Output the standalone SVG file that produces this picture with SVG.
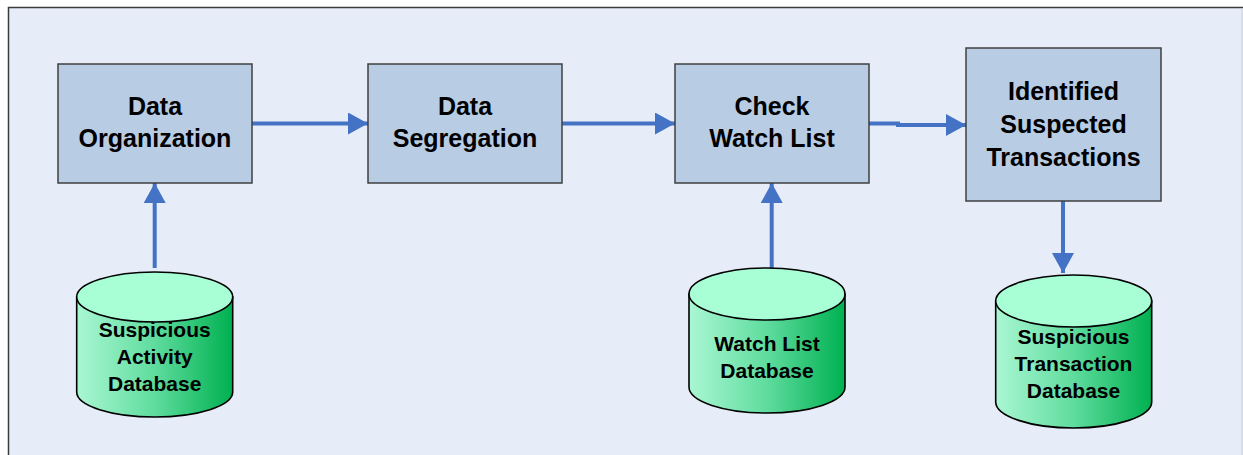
<svg xmlns="http://www.w3.org/2000/svg" width="1243" height="455" viewBox="0 0 1243 455">
  <style>
    .box { fill: #B8CCE4; stroke: #3F3F3F; stroke-width: 1.5; }
    .lbl { font-family: "Liberation Sans", Arial, sans-serif; font-weight: bold; fill: #000; text-anchor: middle; }
    .big { font-size: 25px; }
    .small { font-size: 21px; }
    .side { fill: url(#cylSide); stroke: #000; stroke-width: 1.6; }
    .cap { fill: #A9FFD5; stroke: #000; stroke-width: 1.6; }
    .flow { fill: none; stroke: #4472C4; stroke-width: 4; marker-end: url(#arrow); }
  </style>
  <defs>
    <linearGradient id="cylSide" x1="0" y1="0" x2="1" y2="0">
      <stop offset="0" stop-color="#AAF7D3"/>
      <stop offset="0.5" stop-color="#5FDC9E"/>
      <stop offset="1" stop-color="#00B050"/>
    </linearGradient>
    <marker id="arrow" markerUnits="userSpaceOnUse" markerWidth="20" markerHeight="22" refX="20" refY="11" orient="auto">
      <path d="M0,0 L20,11 L0,22 Z" fill="#4472C4"/>
    </marker>
  </defs>

  <!-- page and panel frame -->
  <rect x="0" y="0" width="1243" height="455" fill="#FFFFFF"/>
  <rect x="8.5" y="7.5" width="1234.5" height="448" fill="#E6EDF8"/>
  <path d="M8.5,455 V7.5 H1243" fill="none" stroke="#3A3A3A" stroke-width="1.5"/>
  <path d="M1242,8 V455" fill="none" stroke="#C8CFDA" stroke-width="1"/>

  <g id="connectors">
    <path class="flow" d="M250,123.5 H368"/>
    <path class="flow" d="M562,123.5 H675"/>
    <path class="flow" d="M869,123.5 H898 V125 H966"/>
    <path class="flow" d="M154.7,268 V183"/>
    <path class="flow" d="M771.7,268 V183"/>
    <path class="flow" d="M1063,201 V273"/>
  </g>

  <g id="data-organization">
    <rect class="box" x="58" y="64" width="194" height="119"/>
    <text class="lbl big" x="155" y="115">Data</text>
    <text class="lbl big" x="155" y="147">Organization</text>
  </g>

  <g id="data-segregation">
    <rect class="box" x="368" y="64" width="194" height="119"/>
    <text class="lbl big" x="465" y="115">Data</text>
    <text class="lbl big" x="465" y="147">Segregation</text>
  </g>

  <g id="check-watch-list">
    <rect class="box" x="675" y="64" width="194" height="119"/>
    <text class="lbl big" x="772" y="115">Check</text>
    <text class="lbl big" x="772" y="147">Watch List</text>
  </g>

  <g id="identified-suspected-transactions">
    <rect class="box" x="966" y="48" width="195" height="153"/>
    <text class="lbl big" x="1063.5" y="100">Identified</text>
    <text class="lbl big" x="1063.5" y="133">Suspected</text>
    <text class="lbl big" x="1063.5" y="166">Transactions</text>
  </g>

  <g id="suspicious-activity-db">
    <path class="side" d="M76.7,297 V392 A78,25 0 0 0 232.7,392 V297 Z"/>
    <ellipse class="cap" cx="154.7" cy="297" rx="78" ry="25"/>
    <text class="lbl small" x="154.7" y="337">Suspicious</text>
    <text class="lbl small" x="154.7" y="364">Activity</text>
    <text class="lbl small" x="154.7" y="391">Database</text>
  </g>

  <g id="watch-list-db">
    <path class="side" d="M689,294 V387 A78,26 0 0 0 845,387 V294 Z"/>
    <ellipse class="cap" cx="767" cy="294" rx="78" ry="26"/>
    <text class="lbl small" x="767" y="350.5">Watch List</text>
    <text class="lbl small" x="767" y="377.5">Database</text>
  </g>

  <g id="suspicious-transaction-db">
    <path class="side" d="M995.7,301 V402 A78,26 0 0 0 1151.7,402 V301 Z"/>
    <ellipse class="cap" cx="1073.7" cy="301" rx="78" ry="26"/>
    <text class="lbl small" x="1073.5" y="344">Suspicious</text>
    <text class="lbl small" x="1073.5" y="371">Transaction</text>
    <text class="lbl small" x="1073.5" y="398">Database</text>
  </g>
</svg>
